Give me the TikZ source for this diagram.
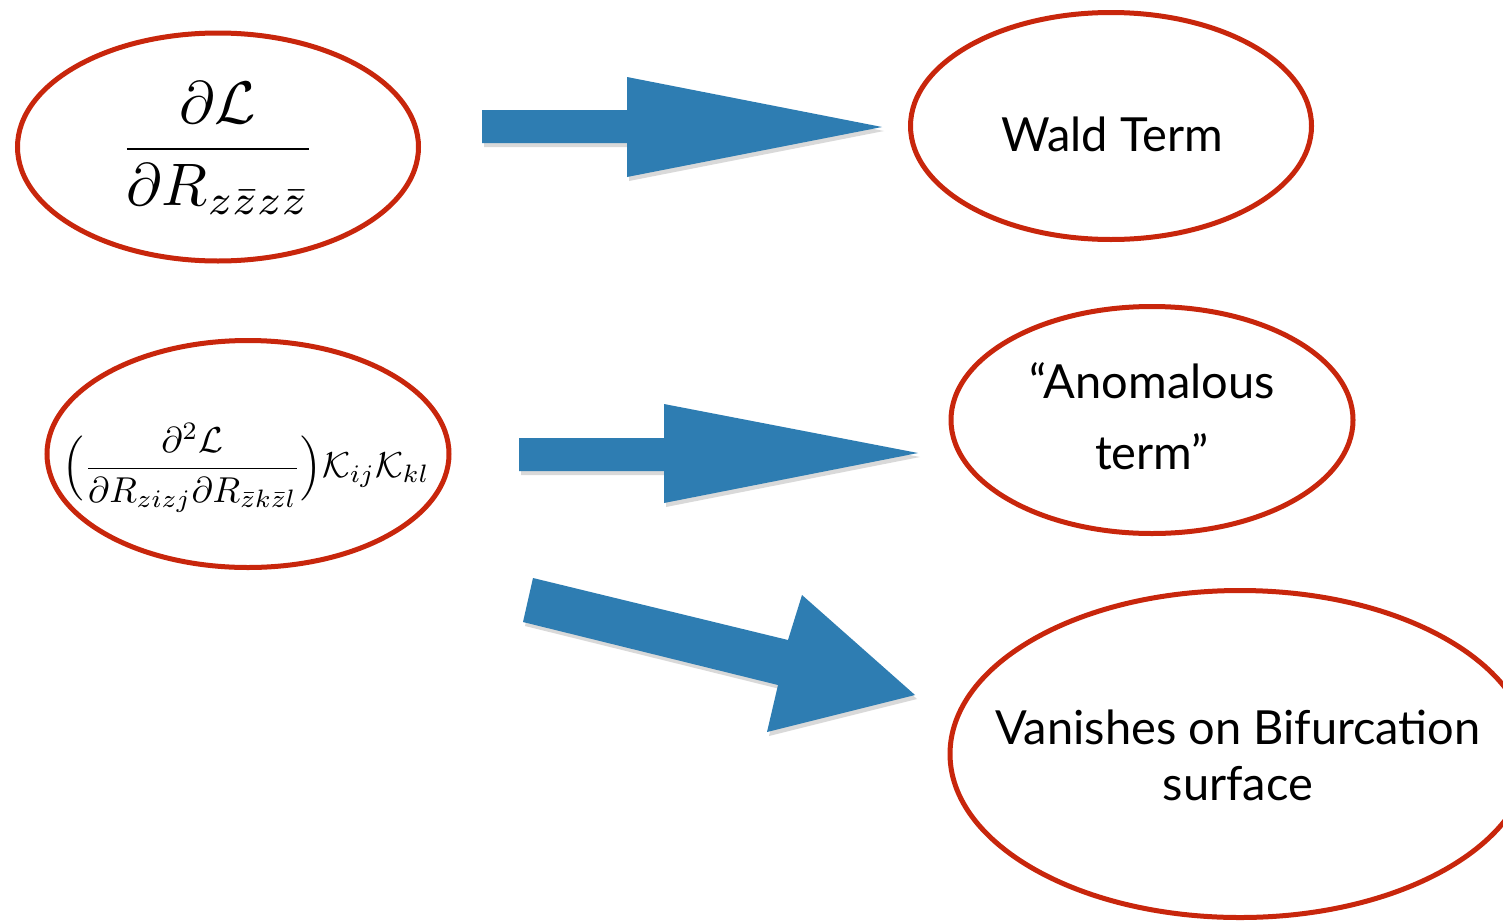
\documentclass[tikz,border=0pt]{standalone}
\usepackage{amsmath}
\usepackage{graphicx}
\usepackage{fontspec}
\newfontfamily\gill{Lato}
\usetikzlibrary{shapes.geometric}
\definecolor{ellred}{RGB}{200,38,12}
\definecolor{arrblue}{RGB}{46,125,178}
\begin{document}
\begin{tikzpicture}[x=1pt,y=-1pt,
  ell/.style={draw=ellred, line width=5pt, ellipse, inner sep=0pt},
  blockarrow/.style={fill=arrblue, draw=none},
  arrshadow/.style={fill=black, opacity=0.15, draw=none},
  label/.style={font=\gill\fontsize{47}{71}\selectfont, align=center, inner sep=0pt}]
\useasboundingbox (0,0) rectangle (1503,921);
\fill[white] (0,0) rectangle (1503,921);

% ellipses
\node[ell, minimum width=401pt, minimum height=228pt] (e1) at (218,147) {};
\node[ell, minimum width=401pt, minimum height=227pt] (e2) at (1111,126) {};
\node[ell, minimum width=402pt, minimum height=227pt] (e3) at (248,454) {};
\node[ell, minimum width=402pt, minimum height=227pt] (e4) at (1152,420) {};
\node[ell, minimum width=580pt, minimum height=327pt] (e5) at (1240,754) {};

% math
\node (m1) at (218,148) {\scalebox{6.0}{$\displaystyle\frac{\partial\mathcal{L}}{\partial R_{z\bar z z\bar z}}$}};
\node (m2) at (246,468) {\scalebox{3.6}{$\Big(\dfrac{\partial^2\mathcal{L}}{\partial R_{zizj}\partial R_{\bar zk\bar zl}}\Big)\mathcal{K}_{ij}\mathcal{K}_{kl}$}};

% labels
\node[label] (t1) at (1112,134) {Wald Term};
\node[label] (t2) at (1152,416) {“Anomalous\\term”};
\node[label, font=\gill\fontsize{47}{56}\selectfont] (t3) at (1238,755) {Vanishes on Bifurcation\\surface};

% block arrows
\begin{scope}[shift={(2,4)}]
\fill[arrshadow] (482,110) -- (627,110) -- (627,77) -- (882,127) -- (627,177) -- (627,143) -- (482,143) -- cycle;
\fill[arrshadow] (519,438) -- (664,438) -- (664,404) -- (918,453) -- (664,503) -- (664,471) -- (519,471) -- cycle;
\fill[arrshadow] (533,578) -- (788,640) -- (802,595) -- (915,695) -- (767,732) -- (778,685) -- (523,622) -- cycle;
\end{scope}
\fill[blockarrow] (482,110) -- (627,110) -- (627,77) -- (882,127) -- (627,177) -- (627,143) -- (482,143) -- cycle;
\fill[blockarrow] (519,438) -- (664,438) -- (664,404) -- (918,453) -- (664,503) -- (664,471) -- (519,471) -- cycle;
\fill[blockarrow] (533,578) -- (788,640) -- (802,595) -- (915,695) -- (767,732) -- (778,685) -- (523,622) -- cycle;
\end{tikzpicture}
\end{document}
